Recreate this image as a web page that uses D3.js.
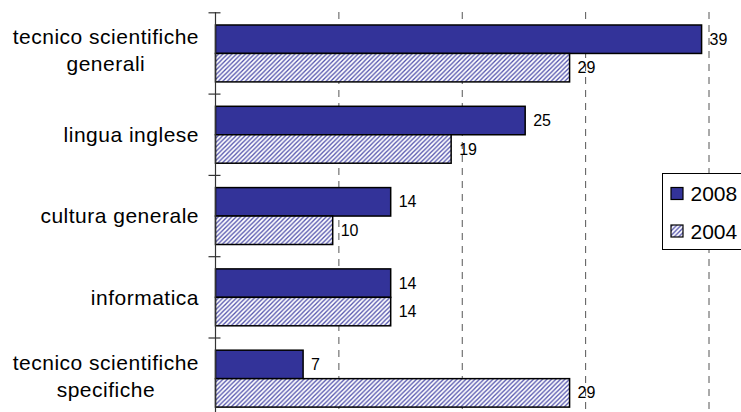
<!DOCTYPE html>
<html>
<head>
<meta charset="utf-8">
<script src="https://cdn.jsdelivr.net/npm/d3@7"></script>
<style>
  html, body { margin: 0; padding: 0; background: #fff; }
  svg { display: block; }
  text { font-family: "Liberation Sans", Arial, sans-serif; fill: #000; }
</style>
</head>
<body>
<svg id="chart" width="741" height="412"></svg>
<script>
const categories = ["tecnico scientifiche\ngenerali", "lingua inglese", "cultura generale", "informatica", "tecnico scientifiche\nspecifiche"];
const series = ["2008", "2004"];
const values2008 = [39.4, 25.1, 14.2, 14.2, 7.1];
const values2004 = [28.7, 19.1, 9.5, 14.2, 28.7];
const labels2008 = ["39", "25", "14", "14", "7"];
const labels2004 = ["29", "19", "10", "14", "29"];
const xTicks = [0, 10, 20, 30, 40];

const svg = d3.select("#chart");
const W = 741, H = 412;
const plotLeft = 215.5, plotRight = 709, plotTop = 12, plotBottom = 418.5;
const labelRight = 199;

const x = d3.scaleLinear().domain([0, 40]).range([plotLeft, plotRight]);
const y0 = d3.scaleBand().domain(categories).range([plotTop + 0.8, plotBottom + 0.8])
  .paddingInner(0.3).paddingOuter(0.15);
const y1 = d3.scaleBand().domain(series).range([0, y0.bandwidth()]);

const data = categories.map((c, i) => ({
  cat: c,
  bars: [
    { s: "2008", v: values2008[i], label: labels2008[i] },
    { s: "2004", v: values2004[i], label: labels2004[i] }
  ]
}));

const defs = svg.append("defs");
const pat = defs.append("pattern").attr("id", "hatch")
  .attr("patternUnits", "userSpaceOnUse").attr("width", 4.5).attr("height", 4.5);
pat.append("rect").attr("width", 4.5).attr("height", 4.5).attr("fill", "#ffffff");
pat.append("path").attr("d", "M0,4.5 L4.5,0 M-1,1 L1,-1 M3.5,5.5 L5.5,3.5")
  .attr("stroke", "#5252ac").attr("stroke-width", 1.3);

const fills = { "2008": "#333399", "2004": "url(#hatch)" };

// gridlines
svg.append("g").selectAll("line").data(xTicks.filter(d => d > 0)).join("line")
  .attr("x1", d => x(d)).attr("x2", d => x(d))
  .attr("y1", plotTop).attr("y2", H)
  .attr("stroke", "#555").attr("stroke-width", 1)
  .attr("stroke-dasharray", "7,6");

// bars
const groups = svg.append("g").selectAll("g").data(data).join("g")
  .attr("transform", d => `translate(0,${y0(d.cat)})`);

groups.selectAll("rect").data(d => d.bars).join("rect")
  .attr("x", x(0))
  .attr("y", d => y1(d.s))
  .attr("width", d => x(d.v) - x(0))
  .attr("height", y1.bandwidth())
  .attr("fill", d => fills[d.s])
  .attr("stroke", "#000").attr("stroke-width", 1.5);

groups.selectAll("text").data(d => d.bars).join("text")
  .attr("x", d => x(d.v) + 8)
  .attr("y", d => y1(d.s) + y1.bandwidth() / 2)
  .attr("dy", "0.35em")
  .attr("font-size", 16)
  .text(d => d.label);

// axis line and ticks
const boundaries = categories.map(c => y0(c) - y0.step() * y0.paddingInner() / 2);
boundaries.push(boundaries[boundaries.length - 1] + y0.step());
svg.append("line")
  .attr("x1", plotLeft).attr("x2", plotLeft)
  .attr("y1", plotTop).attr("y2", H)
  .attr("stroke", "#333").attr("stroke-width", 1.2);
svg.append("g").selectAll("line").data(boundaries).join("line")
  .attr("x1", plotLeft - 7).attr("x2", plotLeft + 5)
  .attr("y1", d => d).attr("y2", d => d)
  .attr("stroke", "#333").attr("stroke-width", 1.2);

// category labels (multi-line blocks are centre-aligned, block right-aligned)
const catG = svg.append("g").selectAll("text").data(categories).join("text")
  .attr("text-anchor", "middle")
  .attr("font-size", 21)
  .attr("letter-spacing", "0.5px");
catG.each(function(c) {
  const lines = c.split("\n");
  const lh = 27;
  const shift = lines.length > 1 ? -3 : 0;
  const t = d3.select(this);
  const spans = lines.map((ln, i) => t.append("tspan").attr("x", 0)
      .attr("y", (i - (lines.length - 1) / 2) * lh + shift)
      .attr("dy", "0.35em")
      .text(ln));
  const maxW = d3.max(spans, s => s.node().getComputedTextLength());
  t.attr("transform", `translate(${labelRight - maxW / 2},${y0(c) + y0.bandwidth() / 2})`);
});

// legend
const lg = svg.append("g");
lg.append("rect").attr("x", 662.5).attr("y", 173.5).attr("width", 100).attr("height", 76)
  .attr("fill", "#fff").attr("stroke", "#000").attr("stroke-width", 1);
const items = lg.selectAll("g").data(series).join("g")
  .attr("transform", (d, i) => `translate(671,${193.5 + i * 37.5})`);
items.append("rect").attr("x", 0).attr("y", -6).attr("width", 12).attr("height", 12)
  .attr("fill", d => fills[d]).attr("stroke", "#000").attr("stroke-width", 1.2);
items.append("text").attr("x", 19.5).attr("y", 0).attr("dy", "0.36em")
  .attr("font-size", 21).text(d => d);
</script>
</body>
</html>
